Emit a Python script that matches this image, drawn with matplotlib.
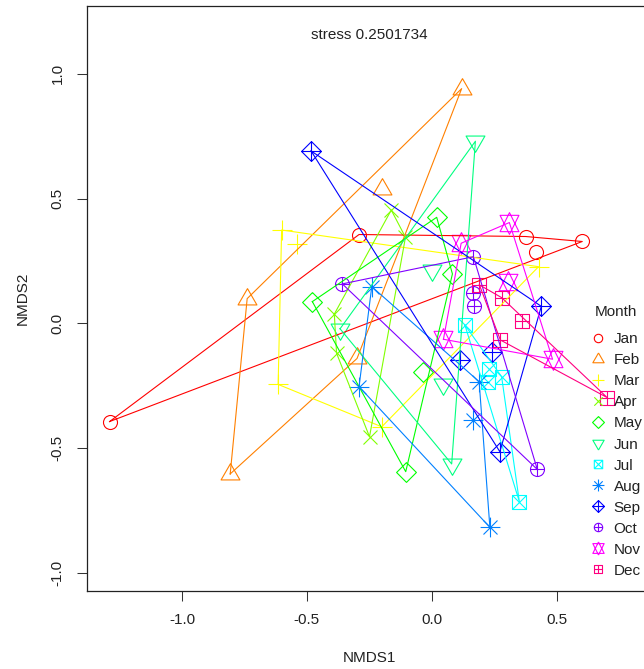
import numpy as np
import matplotlib
matplotlib.use("Agg")
import matplotlib.pyplot as plt
from matplotlib.path import Path
from matplotlib.lines import Line2D
from matplotlib.ticker import FormatStrFormatter

plt.rcParams['font.family'] = ['Liberation Sans', 'DejaVu Sans']
plt.rcParams['axes.unicode_minus'] = False

# ---------------- data ----------------
months = ["Jan", "Feb", "Mar", "Apr", "May", "Jun",
          "Jul", "Aug", "Sep", "Oct", "Nov", "Dec"]
colors = ["#FF0000", "#FF8000", "#FFFF00", "#80FF00", "#00FF00", "#00FF80",
          "#00FFFF", "#0080FF", "#0000FF", "#8000FF", "#FF00FF", "#FF0080"]

jan_x = [-1.290, -0.291, 0.376, 0.603, 0.419]
jan_y = [-0.394, 0.356, 0.348, 0.328, 0.285]
feb_x = [0.120, -0.200, -0.739, -0.807, -0.299]
feb_y = [0.941, 0.540, 0.099, -0.604, -0.141]
mar_x = [-0.601, -0.540, 0.428, -0.615, -0.200]
mar_y = [0.374, 0.317, 0.227, -0.245, -0.415]
apr_x = [-0.162, -0.105, -0.390, -0.381, -0.249]
apr_y = [0.454, 0.345, 0.037, -0.120, -0.455]
may_x = [0.020, 0.083, -0.478, -0.036, -0.104]
may_y = [0.425, 0.198, 0.087, -0.194, -0.595]
jun_x = [0.175, 0.000, -0.367, 0.047, 0.080]
jun_y = [0.730, 0.215, -0.022, -0.244, -0.564]
jul_x = [0.133, 0.231, 0.280, 0.227, 0.351]
jul_y = [-0.007, -0.185, -0.214, -0.234, -0.715]
aug_x = [-0.240, -0.291, 0.190, 0.164, 0.233]
aug_y = [0.147, -0.254, -0.234, -0.388, -0.818]
sep_x = [-0.483, 0.439, 0.242, 0.112, 0.273]
sep_y = [0.691, 0.068, -0.114, -0.146, -0.515]
oct_x = [-0.358, 0.167, 0.167, 0.171, 0.423]
oct_y = [0.158, 0.267, 0.120, 0.070, -0.586]
nov_x = [0.311, 0.118, 0.307, 0.047, 0.484]
nov_y = [0.404, 0.321, 0.167, -0.064, -0.144]
dec_x = [0.191, 0.280, 0.360, 0.275, 0.703]
dec_y = [0.154, 0.103, 0.011, -0.067, -0.298]

xs = [jan_x, feb_x, mar_x, apr_x, may_x, jun_x,
      jul_x, aug_x, sep_x, oct_x, nov_x, dec_x]
ys = [jan_y, feb_y, mar_y, apr_y, may_y, jun_y,
      jul_y, aug_y, sep_y, oct_y, nov_y, dec_y]

x_ticks = [-1.0, -0.5, 0.0, 0.5]
y_ticks = [-1.0, -0.5, 0.0, 0.5, 1.0]
stress_text = "stress 0.2501734"

# ---------------- R-like plotting symbols (pch 1..12) ----------------
S2 = np.sqrt(2.0)
TRC0 = np.sqrt(4 * np.pi / (3 * np.sqrt(3)))
TRC1 = TRC0 * np.sqrt(3) / 2
TRC2 = TRC0 / 2


def seg(*pts_list):
    verts, codes = [], []
    for pts in pts_list:
        for i, p in enumerate(pts):
            verts.append(p)
            codes.append(Path.MOVETO if i == 0 else Path.LINETO)
    return Path(verts, codes)


def poly(pts):
    return pts + [pts[0]]


circle = Path.unit_circle()
tri_up = poly([(0, TRC0), (TRC1, -TRC2), (-TRC1, -TRC2)])
tri_dn = poly([(0, -TRC0), (TRC1, TRC2), (-TRC1, TRC2)])
yc11 = 0.5 * (TRC2 + TRC0)
tri_up11 = poly([(0, TRC0), (TRC1, -yc11), (-TRC1, -yc11)])
tri_dn11 = poly([(0, -TRC0), (TRC1, yc11), (-TRC1, yc11)])
sq = poly([(-1, -1), (1, -1), (1, 1), (-1, 1)])
dia = poly([(0, S2), (S2, 0), (0, -S2), (-S2, 0)])
plus1 = [[(-1, 0), (1, 0)], [(0, -1), (0, 1)]]
plusS2 = [[(-S2, 0), (S2, 0)], [(0, -S2), (0, S2)]]
cross1 = [[(-1, -1), (1, 1)], [(-1, 1), (1, -1)]]

pch_paths = [
    circle,
    seg(tri_up),
    seg(*plusS2),
    seg(*cross1),
    seg(dia),
    seg(tri_dn),
    seg(sq, *cross1),
    seg(*cross1, *plusS2),
    seg(dia, *plusS2),
    Path.make_compound_path(circle, seg(*plus1)),
    seg(tri_up11, tri_dn11),
    seg(sq, *plus1),
]

R_PX = 7.0  # symbol radius in pixels
DPI = 100


def msize(path, r_px):
    m = np.max(np.abs(path.vertices))
    return 2 * m * r_px * 72.0 / DPI


def convex_hull(px, py):
    pts = sorted(set(zip(px, py)))
    if len(pts) <= 2:
        return pts

    def cross(o, a, b):
        return (a[0] - o[0]) * (b[1] - o[1]) - (a[1] - o[1]) * (b[0] - o[0])

    lower, upper = [], []
    for p in pts:
        while len(lower) >= 2 and cross(lower[-2], lower[-1], p) <= 0:
            lower.pop()
        lower.append(p)
    for p in reversed(pts):
        while len(upper) >= 2 and cross(upper[-2], upper[-1], p) <= 0:
            upper.pop()
        upper.append(p)
    return lower[:-1] + upper[:-1]


# ---------------- figure ----------------
W, H = 644, 669
fig = plt.figure(figsize=(W / DPI, H / DPI), dpi=DPI)
L_px, R_px_edge, T_px, B_px = 87.3, 651.0, 6.0, 590.7
ax = fig.add_axes([L_px / W, 1 - B_px / H, (R_px_edge - L_px) / W, (B_px - T_px) / H])

x0, xscale = 431.7, 249.7
y0, yscale = 323.3, 249.4
ax.set_xlim((L_px - x0) / xscale, (R_px_edge - x0) / xscale)
ax.set_ylim((y0 - B_px) / yscale, (y0 - T_px) / yscale)

LW = 0.8
handles = []
for i, m in enumerate(months):
    path = pch_paths[i]
    ax.plot(xs[i], ys[i], linestyle='none', marker=path,
            markersize=msize(path, R_PX), markerfacecolor='none',
            markeredgecolor=colors[i], markeredgewidth=LW, zorder=3)
    hull = convex_hull(xs[i], ys[i])
    hx = [p[0] for p in hull] + [hull[0][0]]
    hy = [p[1] for p in hull] + [hull[0][1]]
    ax.plot(hx, hy, color=colors[i], lw=LW, zorder=4)
    handles.append(Line2D([], [], linestyle='none', marker=path,
                          markersize=msize(path, R_PX), markerfacecolor='none',
                          markeredgecolor=colors[i], markeredgewidth=LW))

FS = 11
ax.set_xticks(x_ticks)
ax.set_yticks(y_ticks)
ax.xaxis.set_major_formatter(FormatStrFormatter('%.1f'))
ax.yaxis.set_major_formatter(FormatStrFormatter('%.1f'))
ax.tick_params(axis='both', direction='out', length=7.2, width=0.75,
               labelsize=FS, color='#333333', labelcolor='#222222')
ax.tick_params(axis='x', pad=9)
ax.tick_params(axis='y', pad=9)
for lab in ax.get_yticklabels():
    lab.set_rotation(90)
    lab.set_verticalalignment('center')
for sp in ax.spines.values():
    sp.set_linewidth(0.9)
    sp.set_color('#222222')

ax.set_xlabel("NMDS1", fontsize=FS, color='#222222')
ax.set_ylabel("NMDS2", fontsize=FS, color='#222222')
ax.xaxis.set_label_coords(0.5, (B_px - 651.0) / (B_px - T_px))
ax.yaxis.set_label_coords((29.5 - L_px) / (R_px_edge - L_px), 0.5)

ax.text(0.5, (B_px - 34.7) / (B_px - T_px), stress_text, transform=ax.transAxes,
        ha='center', va='center', fontsize=FS, color='#222222')

leg = ax.legend(handles, months, title="Month", loc='upper left',
                bbox_to_anchor=(590 / W, 1 - 304.5 / H),
                bbox_transform=fig.transFigure, frameon=False,
                fontsize=FS, title_fontsize=FS, markerscale=0.6,
                handlelength=1.0, handletextpad=0.54, labelspacing=0.46,
                borderpad=0, borderaxespad=0)
leg._legend_box.sep = 10.0
for t in leg.get_texts():
    t.set_color('#222222')
leg.get_title().set_color('#222222')

fig.savefig("out.png", dpi=DPI)
